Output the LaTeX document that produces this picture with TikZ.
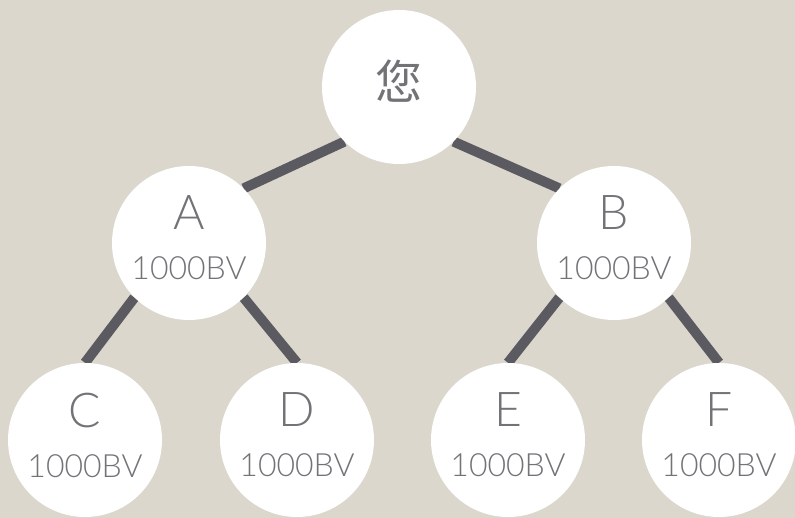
\documentclass[tikz,border=0pt]{standalone}
\usepackage{fontspec}
\setmainfont{Lato Light}
\newfontfamily\cjk{Noto Sans CJK SC}
\usetikzlibrary{backgrounds}
\definecolor{bgbeige}{HTML}{DBD7CD}
\definecolor{linkgray}{HTML}{5B5A60}
\definecolor{txtgray}{HTML}{737277}
\tikzset{
  person/.style={circle, fill=white, minimum size=154pt, inner sep=0pt, text=txtgray, align=center,
    font=\fontsize{32}{36}\selectfont},
  link/.style={line width=10pt, draw=linkgray}
}
\newcommand{\member}[1]{{\fontsize{48}{36}\selectfont #1}\\[14pt]1000BV\rule[-10pt]{0pt}{0pt}}
\begin{document}
\begin{tikzpicture}[x=1pt, y=-1pt]
     	\useasboundingbox (0, 0) rectangle (795, 518);
     	\node[person] (you) at (399, 87) {\cjk\fontsize{47}{47}\selectfont 您\rule[-14pt]{0pt}{0pt}};
     	\node[person] (a) at (189, 243) {\member{A}};
     	\node[person] (b) at (614, 243) {\member{B}};
     	\node[person] (c) at (85, 440) {\member{C}};
     	\node[person] (d) at (297, 440) {\member{D}};
     	\node[person] (e) at (508, 440) {\member{E}};
     	\node[person] (f) at (719, 440) {\member{F}};
     	\begin{scope}[on background layer]
     	\fill[bgbeige] (0, 0) rectangle (795, 518);
     	\draw[link] (you.225) -- (a.45);
     	\draw[link] (you.315) -- (b.135);
     	\draw[link] (a.225) -- (c.north);
     	\draw[link] (a.315) -- (d.north);
     	\draw[link] (b.225) -- (e.north);
     	\draw[link] (b.315) -- (f.north);
     	\end{scope}
\end{tikzpicture}
\end{document}
